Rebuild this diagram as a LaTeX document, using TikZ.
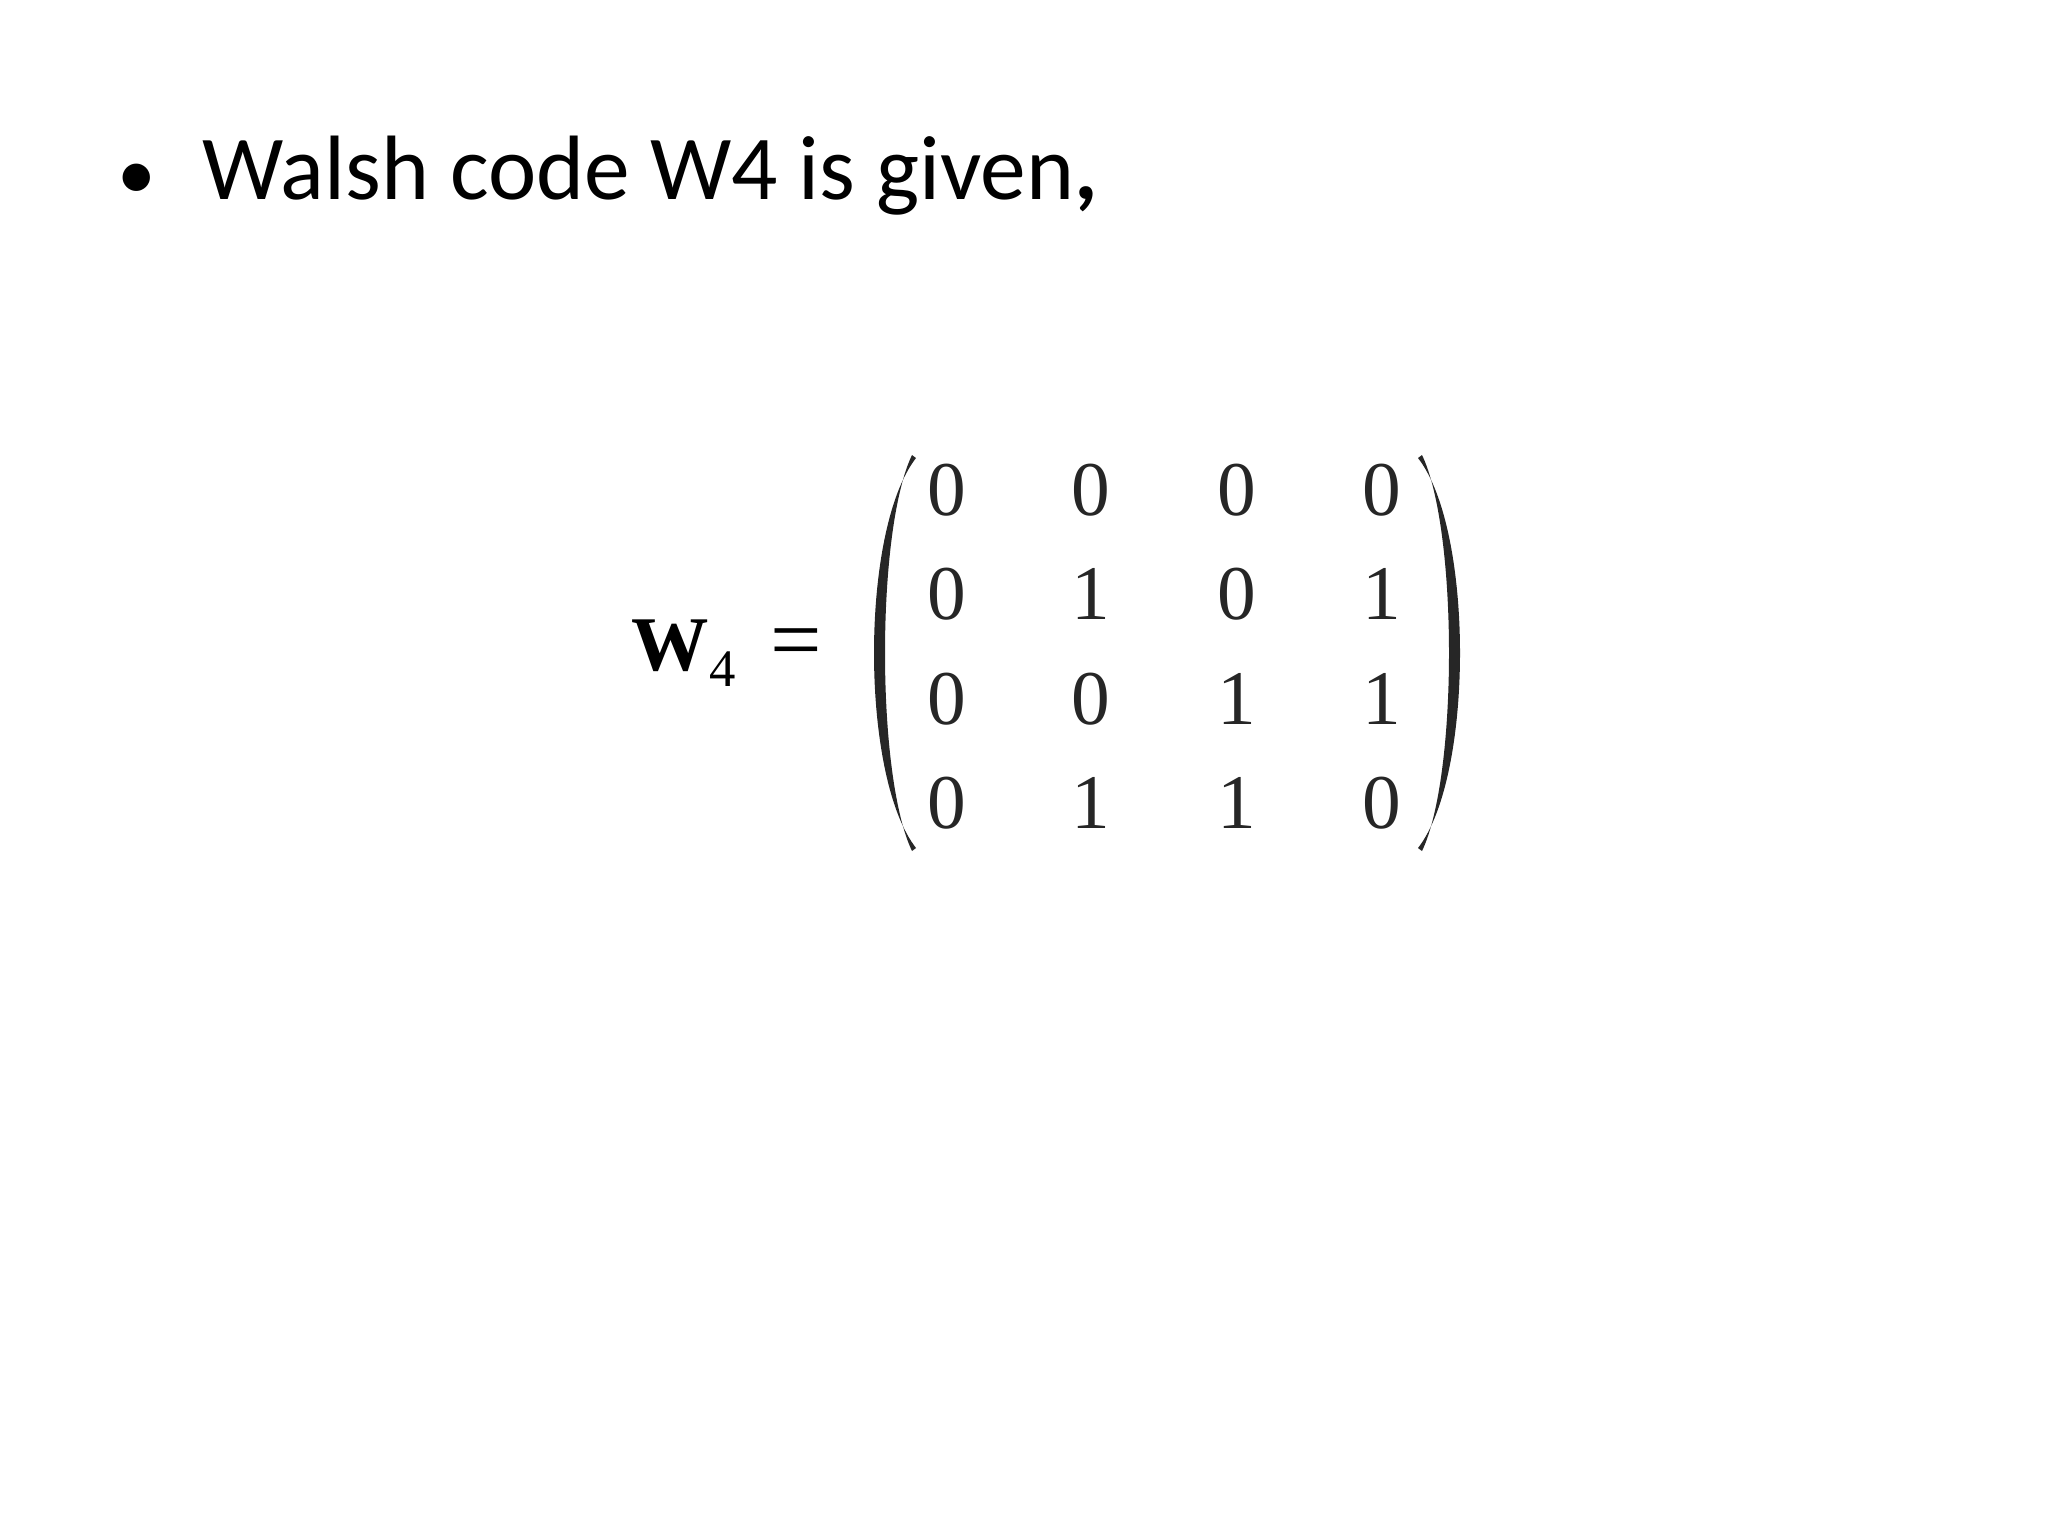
\documentclass[tikz,border=0pt]{standalone}
\usepackage{fontspec}
\setmainfont{Liberation Serif}
\newfontfamily\calib{Carlito}
\begin{document}
\begin{tikzpicture}[x=0.01cm,y=-0.01cm,
  ent/.style={inner sep=0pt,font=\fontsize{22}{24}\selectfont,text=black!85},
  par/.style={fill=black!85,draw=none}]
\useasboundingbox (0,0) rectangle (2048,1536);
\node[anchor=base,inner sep=0pt,font=\calib\fontsize{22}{30}\selectfont] (bul) at (137,199) {\textbullet};
\node[anchor=base west,inner sep=0pt,font=\calib\fontsize{26}{30}\selectfont] (title) at (202,199) {Walsh code W4 is given\textbf{,}};
\node[anchor=west,inner sep=0pt,font=\fontsize{22}{24}\selectfont] (lhs) at (631,653) {\textbf{W}\raisebox{-0.45ex}{\fontsize{15}{16}\selectfont 4}\hspace{0.45em}{\fontsize{26}{26}\selectfont=}};
\foreach \x/\a/\b/\c/\d in {947/0/0/0/0,1091/0/1/0/1,1237/0/0/1/1,1382/0/1/1/0}{
  \node[ent] (m1-\x) at (\x,490) {\a};
  \node[ent] (m2-\x) at (\x,594) {\b};
  \node[ent] (m3-\x) at (\x,699) {\c};
  \node[ent] (m4-\x) at (\x,803) {\d};
}
\fill[par] (916,458) .. controls (860,530) and (860,776) .. (916,848)
  -- (912,851) .. controls (876,776) and (876,530) .. (912,455) -- cycle;
\fill[par] (1418,458) .. controls (1474,530) and (1474,776) .. (1418,848)
  -- (1422,851) .. controls (1458,776) and (1458,530) .. (1422,455) -- cycle;
\end{tikzpicture}
\end{document}
